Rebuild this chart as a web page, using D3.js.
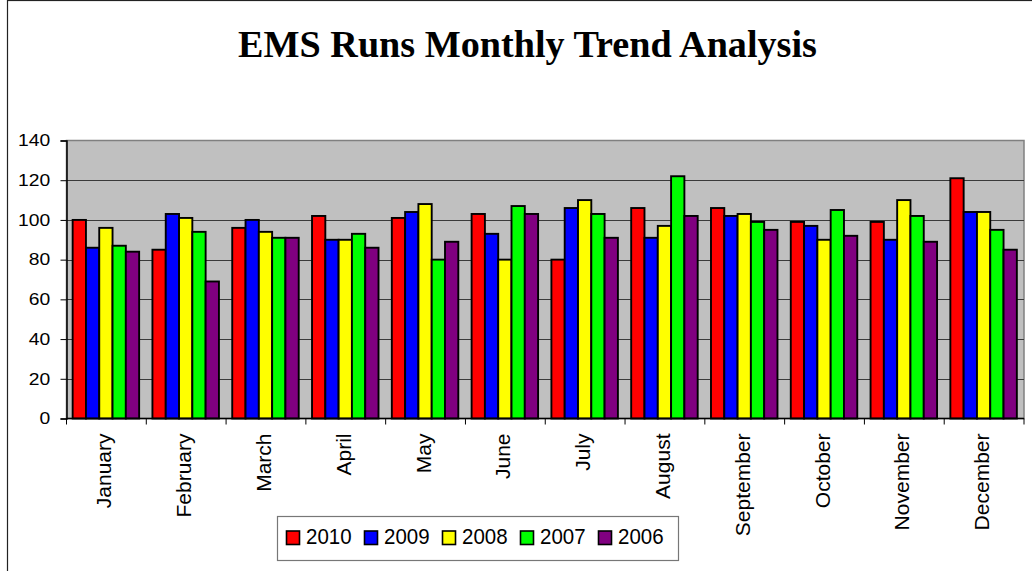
<!DOCTYPE html>
<html>
<head>
<meta charset="utf-8">
<script src="https://cdn.jsdelivr.net/npm/d3@7"></script>
<style>
  body { margin: 0; background: #fff; }
  svg { display: block; }
</style>
</head>
<body>
<script>
// Data
const months = ['January', 'February', 'March', 'April', 'May', 'June', 'July', 'August', 'September', 'October', 'November', 'December']
const years = ['2010', '2009', '2008', '2007', '2006']
const runs2010 = [100, 85, 96, 102, 101, 103, 80, 106, 106, 99, 99, 121]
const runs2009 = [86, 103, 100, 90, 104, 93, 106, 91, 102, 97, 90, 104]
const runs2008 = [96, 101, 94, 90, 108, 80, 110, 97, 103, 90, 110, 104]
const runs2007 = [87, 94, 91, 93, 80, 107, 103, 122, 99, 105, 102, 95]
const runs2006 = [84, 69, 91, 86, 89, 103, 91, 102, 95, 92, 89, 85]
const yTicks = [0, 20, 40, 60, 80, 100, 120, 140]
const colors = ['#FF0000', '#0000FF', '#FFFF00', '#00FF00', '#800080']

const series = [runs2010, runs2009, runs2008, runs2007, runs2006]

const w = 1032
const h = 571
const plot = { left: 66.5, right: 1024, top: 140.5, bottom: 418.5 }
const sans = 'Arial, "Liberation Sans", sans-serif'

const svg = d3.select('body')
  .append('svg')
  .attr('width', w)
  .attr('height', h)

// chart frame (runs off the picture on the right and bottom)
svg.append('rect')
  .attr('x', 7.5).attr('y', 0.5)
  .attr('width', w + 20).attr('height', h + 20)
  .attr('fill', '#fff')
  .attr('stroke', '#222')
  .attr('stroke-width', 1.2)

// Scales
const x0 = d3.scaleBand().domain(months).range([plot.left, plot.right])
const x1 = d3.scaleBand().domain(years).range([0, x0.bandwidth()]).paddingOuter(0.5)
const y = d3.scaleLinear().domain([0, 140]).range([plot.bottom, plot.top])

// Title
svg.append('text')
  .attr('transform', 'translate(527.5,57) scale(1.06,1.05)')
  .attr('text-anchor', 'middle')
  .style('font-family', '"Liberation Serif", "Times New Roman", serif')
  .style('font-weight', 'bold')
  .style('font-size', '36px')
  .text('EMS Runs Monthly Trend Analysis')

// Plot area
svg.append('rect')
  .attr('x', plot.left).attr('y', plot.top)
  .attr('width', plot.right - plot.left).attr('height', plot.bottom - plot.top)
  .attr('fill', '#C0C0C0')
  .attr('stroke', '#808080')
  .attr('stroke-width', 1.5)

// Gridlines
svg.append('g')
  .selectAll('line')
  .data(yTicks.filter(d => d > 0 && d < 140))
  .enter()
  .append('line')
  .attr('x1', plot.left).attr('x2', plot.right)
  .attr('y1', d => Math.round(y(d)) + 0.5).attr('y2', d => Math.round(y(d)) + 0.5)
  .attr('stroke', '#3a3a3a')
  .attr('stroke-width', 1)

// Bars
const groups = svg.append('g')
  .selectAll('g')
  .data(months)
  .enter()
  .append('g')
  .attr('transform', d => 'translate(' + x0(d) + ',0)')

groups.selectAll('rect')
  .data((m, i) => years.map((yr, j) => ({ year: yr, value: series[j][i], c: colors[j] })))
  .enter()
  .append('rect')
  .attr('x', d => x1(d.year) - 0.5)
  .attr('y', d => y(d.value))
  .attr('width', x1.bandwidth())
  .attr('height', d => y(0) - y(d.value))
  .attr('fill', d => d.c)
  .attr('stroke', '#000')
  .attr('stroke-width', 1.9)

// Y axis
const yAxis = svg.append('g')
  .attr('transform', 'translate(' + plot.left + ',0)')
  .call(d3.axisLeft(y).tickValues(yTicks).tickSize(6))
yAxis.select('.domain').attr('stroke', '#000').attr('stroke-width', 1.5)
yAxis.selectAll('.tick line').attr('stroke', '#000')
yAxis.selectAll('text')
  .attr('x', -14)
  .attr('transform', 'scale(1.17,1)')
  .style('font-family', sans)
  .style('font-size', '16.5px')
  .attr('fill', '#000')

// X axis
const xAxis = svg.append('g')
  .attr('transform', 'translate(0,' + plot.bottom + ')')
xAxis.append('line')
  .attr('x1', plot.left).attr('x2', plot.right)
  .attr('stroke', '#000').attr('stroke-width', 1.5)
xAxis.selectAll('line.tk')
  .data(months.map(m => x0(m)).concat([plot.right]))
  .enter()
  .append('line')
  .attr('class', 'tk')
  .attr('x1', d => d).attr('x2', d => d)
  .attr('y1', 0).attr('y2', 6)
  .attr('stroke', '#000')
xAxis.selectAll('text')
  .data(months)
  .enter()
  .append('text')
  .attr('transform', d => 'translate(' + (x0(d) + x0.bandwidth() / 2 + 5) + ',15) rotate(-90)')
  .attr('text-anchor', 'end')
  .style('font-family', sans)
  .style('font-size', '21px')
  .text(d => d)

// Legend
const legend = svg.append('g')
legend.append('rect')
  .attr('x', 277.5).attr('y', 516.5)
  .attr('width', 401).attr('height', 44)
  .attr('fill', '#fff')
  .attr('stroke', '#777')
  .attr('stroke-width', 1.2)

const items = legend.selectAll('g.item')
  .data(years)
  .enter()
  .append('g')
  .attr('class', 'item')
  .attr('transform', (d, i) => 'translate(' + (286 + i * 78) + ',0)')
items.append('rect')
  .attr('x', 0.5).attr('y', 531)
  .attr('width', 13).attr('height', 13.5)
  .attr('fill', (d, i) => colors[i])
  .attr('stroke', '#000')
  .attr('stroke-width', 1.6)
items.append('text')
  .attr('transform', 'translate(20,543.5) scale(1,1.1)')
  .style('font-family', sans)
  .style('font-size', '20.5px')
  .text(d => d)
</script>
</body>
</html>
